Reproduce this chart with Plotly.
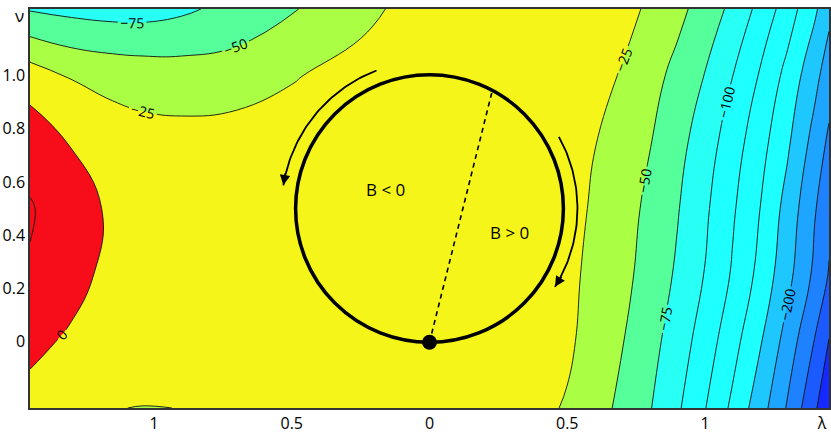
import numpy as np
import plotly.graph_objects as go

# ---- data ----
lam = [-1.45, -1.3, -1.15, -1.04, -0.9, -0.7, -0.5, -0.25, 0.0, 0.25, 0.4, 0.5,
       0.6, 0.7, 0.8, 0.9, 1.0, 1.1, 1.2, 1.3, 1.4, 1.45]
nu = [-0.25, 0.0, 0.25, 0.5, 0.75, 1.0, 1.25]

z_nu_m025 = [-7, -16, -24.7, -25.3, -24.9, -23, -21, -20, -19, -19, -20, -27.1,
             -40.6, -55.5, -73.6, -96.3, -124, -155.2, -189, -227.7, -272, -296]
z_nu_000 = [5, -3, -12, -16, -17, -17, -16, -16, -16, -16, -17.5, -21,
            -34.5, -49.1, -66.6, -87.1, -112, -140.9, -172.7, -210.7, -252, -276]
z_nu_025 = [23, 7, -6, -11, -14, -16, -16, -16, -16, -16, -17, -20.2,
            -30.2, -43.5, -59.4, -78.6, -101.0, -127.7, -157.3, -192.6, -231.2, -251.7]
z_nu_050 = [27, 11, -4, -10, -14, -16, -16, -16, -16, -16, -16, -18.8,
            -27.3, -40.6, -55.2, -73.4, -95.8, -121.7, -150.1, -184.3, -223.8, -244.1]
z_nu_075 = [15, -1.5, -12, -16, -16.8, -14, -16, -16, -15, -15, -15.5, -17.8,
            -24.5, -36.0, -49.0, -66.8, -87.9, -113.1, -140.7, -171.3, -210, -229.7]
z_nu_100 = [-12, -27, -33, -35.5, -37.8, -37, -26.4, -18, -13, -10, -10, -12,
            -17.1, -26.8, -41.1, -57.1, -75.9, -99.7, -127.3, -158, -193.3, -213.2]
z_nu_125 = [-77, -82, -85, -85, -79.5, -66.7, -52.2, -30.6, -15, -12, -11, -10.5,
            -12, -17.5, -28.7, -43.4, -60.4, -81.1, -107.4, -137.7, -171.5, -193.3]

z = [z_nu_m025, z_nu_000, z_nu_025, z_nu_050, z_nu_075, z_nu_100, z_nu_125]

# contour levels
level_start, level_end, level_step = -275, 25, 25
# band colours from lowest band (< -275) to highest (> 25)
band_colors = ["#1428FF", "#1A5AFF", "#1E82FF", "#1EA5FF", "#1EC8FF",
               "#1EFFFF", "#1EFFFF", "#1EFFFF", "#28FFF5", "#55FF99",
               "#AAFF44", "#F5F519", "#F70D1A", "#F70D1A"]

x_tick_vals = [-1, -0.5, 0, 0.5, 1, 1.425]
x_tick_text = ["1", "0.5", "0", "0.5", "1", "λ"]
y_tick_vals = [0, 0.2, 0.4, 0.6, 0.8, 1.0]
y_tick_text = ["0", "0.2", "0.4", "0.6", "0.8", "1.0"]

# ---- colour scale (step) ----
nc = int(round((level_end - level_start) / level_step)) + 1
colorscale = []
for k, c in enumerate(band_colors):
    lo = max(0.0, (k - 0.5) / nc)
    hi = min(1.0, (k + 0.5) / nc)
    colorscale.append([lo, c])
    colorscale.append([hi, c])

FONT = "Open Sans"

fig = go.Figure()

fig.add_trace(go.Contour(
    x=lam, y=nu, z=z,
    contours=dict(start=level_start, end=level_end, size=level_step,
                  coloring="fill", showlines=False),
    colorscale=colorscale, showscale=False, hoverinfo="skip",
    line=dict(smoothing=1.3, width=0),
))

def line_trace(start, end, labels):
    return go.Contour(
        x=lam, y=nu, z=z,
        contours=dict(start=start, end=end, size=level_step, coloring="none",
                      showlabels=labels,
                      labelfont=dict(size=14, color="black", family=FONT)),
        line=dict(color="#111111", width=0.9, smoothing=1.3),
        showscale=False, hoverinfo="skip",
    )

fig.add_trace(line_trace(-100, 25, True))
fig.add_trace(line_trace(-200, -200, True))
fig.add_trace(line_trace(-175, -125, False))
fig.add_trace(line_trace(-275, -225, False))

# ---- circle, chord, arrows ----
cx, cy = 0.0, 0.5
rx, ry = 0.486, 0.503
arrow_scale = 1.105
chord_angle = 62.0
left_arc = (111.0, 171.0)
right_arc = (29.0, -32.0)

fig.add_shape(type="circle", xref="x", yref="y",
              x0=cx - rx, x1=cx + rx, y0=cy - ry, y1=cy + ry,
              line=dict(color="black", width=3.5))

ca = np.deg2rad(chord_angle)
fig.add_trace(go.Scatter(x=[cx, cx + rx * np.cos(ca)], y=[cy - ry, cy + ry * np.sin(ca)],
                         mode="lines", line=dict(color="black", width=1.6, dash="5px,4px"),
                         hoverinfo="skip", showlegend=False))

for a0, a1 in (left_arc, right_arc):
    t = np.deg2rad(np.linspace(a0, a1, 60))
    ax_ = cx + arrow_scale * rx * np.cos(t)
    ay_ = cy + arrow_scale * ry * np.sin(t)
    fig.add_trace(go.Scatter(x=ax_, y=ay_, mode="lines",
                             line=dict(color="black", width=1.8),
                             hoverinfo="skip", showlegend=False))
    te = np.deg2rad(a1)
    sgn = 1 if a1 > a0 else -1
    dx = -np.sin(te) * sgn
    dy = np.cos(te) * sgn
    L = 14
    fig.add_annotation(x=ax_[-1], y=ay_[-1], xref="x", yref="y",
                       ax=-dx * L, ay=dy * L, text="", showarrow=True,
                       arrowhead=2, arrowsize=1.3, arrowwidth=1.6, arrowcolor="black")

fig.add_trace(go.Scatter(x=[cx], y=[cy - ry], mode="markers",
                         marker=dict(color="black", size=15),
                         hoverinfo="skip", showlegend=False))

fig.add_annotation(x=-0.16, y=0.57, text="B < 0", showarrow=False,
                   font=dict(size=17, color="black", family=FONT))
fig.add_annotation(x=0.29, y=0.41, text="B > 0", showarrow=False,
                   font=dict(size=17, color="black", family=FONT))
fig.add_annotation(x=-0.021, xref="paper", y=1.225, yref="y", text="ν",
                   showarrow=False, font=dict(size=17, color="black", family=FONT))

fig.update_layout(
    width=831, height=436,
    margin=dict(l=30, r=2, t=9, b=28),
    paper_bgcolor="white", plot_bgcolor="white",
    font=dict(family=FONT, size=16, color="black"),
    showlegend=False,
    xaxis=dict(range=[-1.45, 1.45], showgrid=False, zeroline=False,
               tickvals=x_tick_vals, ticktext=x_tick_text, ticks="",
               showline=True, linecolor="#333", linewidth=1.5, mirror=True,
               tickfont=dict(size=16), automargin=False),
    yaxis=dict(range=[-0.25, 1.25], showgrid=False, zeroline=False,
               tickvals=y_tick_vals, ticktext=y_tick_text, ticks="",
               showline=True, linecolor="#333", linewidth=1.5, mirror=True,
               tickfont=dict(size=16), automargin=False),
)

fig.write_html("out.html", config={"displayModeBar": False},
               post_script="document.body.style.margin='0px';")
